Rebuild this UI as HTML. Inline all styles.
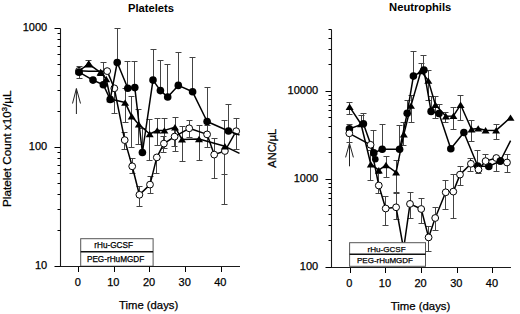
<!DOCTYPE html>
<html><head><meta charset="utf-8"><style>
html,body{margin:0;padding:0;background:#fff;}
body{width:520px;height:314px;overflow:hidden;}
svg{display:block;font-family:"Liberation Sans", sans-serif;}
</style></head><body>
<svg width="520" height="314" viewBox="0 0 520 314" fill="#000">
<path d="M60.5 28.5V266.5H240" stroke="#1a1a1a" stroke-width="1.1" fill="none"/>
<path d="M54.5 28.5H60.5M54.5 147.5H60.5M54.5 266.5H60.5M57.5 230.5H60.5M57.5 209.5H60.5M57.5 194.5H60.5M57.5 183.5H60.5M57.5 173.5H60.5M57.5 165.5H60.5M57.5 158.5H60.5M57.5 152.5H60.5M57.5 111.5H60.5M57.5 90.5H60.5M57.5 75.5H60.5M57.5 64.5H60.5M57.5 54.5H60.5M57.5 46.5H60.5M57.5 39.5H60.5M57.5 33.5H60.5M78.5 266.5V272M114.5 266.5V272M149.5 266.5V272M185.5 266.5V272M221.5 266.5V272" stroke="#000" stroke-width="1" fill="none"/>
<text x="47.2" y="30.8" font-size="11" text-anchor="end" font-weight="normal" stroke="#000" stroke-width="0.25">1000</text>
<text x="47.2" y="149.9" font-size="11" text-anchor="end" font-weight="normal" stroke="#000" stroke-width="0.25">100</text>
<text x="47.2" y="269" font-size="11" text-anchor="end" font-weight="normal" stroke="#000" stroke-width="0.25">10</text>
<text x="77.7" y="286" font-size="11" text-anchor="middle" font-weight="normal" stroke="#000" stroke-width="0.25">0</text>
<text x="113.35" y="286" font-size="11" text-anchor="middle" font-weight="normal" stroke="#000" stroke-width="0.25">10</text>
<text x="149" y="286" font-size="11" text-anchor="middle" font-weight="normal" stroke="#000" stroke-width="0.25">20</text>
<text x="184.65" y="286" font-size="11" text-anchor="middle" font-weight="normal" stroke="#000" stroke-width="0.25">30</text>
<text x="220.3" y="286" font-size="11" text-anchor="middle" font-weight="normal" stroke="#000" stroke-width="0.25">40</text>
<path d="M76.4 88.6V114M72.5 103.5L76.4 88.6L80.5 103.5" stroke="#222" stroke-width="1" fill="none"/>
<path d="M79.5 70.8V66.5M76.5 66.5h6M79.5 70.8V78.5M76.5 78.5h6M114.5 88.3V113.5M111.5 113.5h6M124.5 140.1V132.5M121.5 132.5h6M124.5 140.1V149.5M121.5 149.5h6M132.5 166.3V158.5M129.5 158.5h6M132.5 166.3V173.5M129.5 173.5h6M139.5 194.8V186.5M136.5 186.5h6M139.5 194.8V206.5M136.5 206.5h6M150.5 184.6V176.5M147.5 176.5h6M150.5 184.6V193.5M147.5 193.5h6M156.5 157.4V173.5M153.5 173.5h6M163.5 143.6V136.5M160.5 136.5h6M163.5 143.6V152.5M160.5 152.5h6M174.5 136.6V128.5M171.5 128.5h6M174.5 136.6V146.5M171.5 146.5h6M189.5 128.3V120.5M186.5 120.5h6M189.5 128.3V137.5M186.5 137.5h6M207.5 134.4V125.5M204.5 125.5h6M207.5 134.4V147.5M204.5 147.5h6M214.5 154.6V138.5M211.5 138.5h6M214.5 154.6V178.5M211.5 178.5h6M224.5 151V174.5M221.5 174.5h6M236.5 131.2V118.5M233.5 118.5h6M236.5 131.2V149.5M233.5 149.5h6" stroke="#444" stroke-width="1" fill="none"/>
<path d="M88.5 63.9V60.5M85.5 60.5h6M125.5 102.6V88.5M122.5 88.5h6M125.5 102.6V122.5M122.5 122.5h6M131.5 116.3V96.5M128.5 96.5h6M131.5 116.3V147.5M128.5 147.5h6M138.5 124.4V109.5M135.5 109.5h6M138.5 124.4V144.5M135.5 144.5h6M149.5 134V119.5M146.5 119.5h6M149.5 134V160.5M146.5 160.5h6M157.5 130.4V118.5M154.5 118.5h6M157.5 130.4V145.5M154.5 145.5h6M164.5 130.4V118.5M161.5 118.5h6M164.5 130.4V148.5M161.5 148.5h6M175.5 127.2V117.5M172.5 117.5h6M175.5 127.2V151.5M172.5 151.5h6M182.5 139.4V126.5M179.5 126.5h6M182.5 139.4V161.5M179.5 161.5h6M199.5 139V125.5M196.5 125.5h6M199.5 139V160.5M196.5 160.5h6M224.5 146.3V120.5M221.5 120.5h6M224.5 146.3V204.5M221.5 204.5h6" stroke="#444" stroke-width="1" fill="none"/>
<path d="M103.5 84.8V62.5M100.5 62.5h6M117.5 62.5V28.5M114.5 28.5h6M127.5 88.3V61.5M124.5 61.5h6M134.5 87.6V61.5M131.5 61.5h6M142.5 152.5V128.5M139.5 128.5h6M153.5 80.1V49.5M150.5 49.5h6M160.5 90.6V60.5M157.5 60.5h6M167.5 97V64.5M164.5 64.5h6M178.5 85.4V52.5M175.5 52.5h6M192.5 91.8V57.5M189.5 57.5h6M207.5 121.5V87.5M204.5 87.5h6M228.5 131V104.5M225.5 104.5h6" stroke="#444" stroke-width="1" fill="none"/>
<polyline points="79,70.8 88.8,71.2 100.5,71.3 107.2,71.1 114.3,88.3 124.7,140.1 132.2,166.3 139.4,194.8 150,184.6 156.8,157.4 163.9,143.6 174.6,136.6 189.2,128.3 207.1,134.4 214.2,154.6 224.9,151 236.2,131.2" fill="none" stroke="#000" stroke-width="1.5" stroke-linejoin="round"/>
<circle cx="79" cy="70.8" r="3.4" fill="#fff" stroke="#000" stroke-width="1"/>
<circle cx="107.2" cy="71.1" r="3.4" fill="#fff" stroke="#000" stroke-width="1"/>
<circle cx="114.3" cy="88.3" r="3.4" fill="#fff" stroke="#000" stroke-width="1"/>
<circle cx="124.7" cy="140.1" r="3.4" fill="#fff" stroke="#000" stroke-width="1"/>
<circle cx="132.2" cy="166.3" r="3.4" fill="#fff" stroke="#000" stroke-width="1"/>
<circle cx="139.4" cy="194.8" r="3.4" fill="#fff" stroke="#000" stroke-width="1"/>
<circle cx="150" cy="184.6" r="3.4" fill="#fff" stroke="#000" stroke-width="1"/>
<circle cx="156.8" cy="157.4" r="3.4" fill="#fff" stroke="#000" stroke-width="1"/>
<circle cx="163.9" cy="143.6" r="3.4" fill="#fff" stroke="#000" stroke-width="1"/>
<circle cx="174.6" cy="136.6" r="3.4" fill="#fff" stroke="#000" stroke-width="1"/>
<circle cx="189.2" cy="128.3" r="3.4" fill="#fff" stroke="#000" stroke-width="1"/>
<circle cx="207.1" cy="134.4" r="3.4" fill="#fff" stroke="#000" stroke-width="1"/>
<circle cx="214.2" cy="154.6" r="3.4" fill="#fff" stroke="#000" stroke-width="1"/>
<circle cx="224.9" cy="151" r="3.4" fill="#fff" stroke="#000" stroke-width="1"/>
<circle cx="236.2" cy="131.2" r="3.4" fill="#fff" stroke="#000" stroke-width="1"/>
<polyline points="79,71 88.6,63.9 101,72.8 106.2,79 110.5,99 125.1,102.6 131.7,116.3 138.8,124.4 149.7,134 157.2,130.4 164.4,130.4 175,127.2 182,139.4 199,139 224.9,146.3 239.5,153.4" fill="none" stroke="#000" stroke-width="1.5" stroke-linejoin="round"/>
<path d="M79 67.8L83 74.2L75 74.2Z" fill="#000"/>
<path d="M88.6 60.7L92.6 67.1L84.6 67.1Z" fill="#000"/>
<path d="M101 69.6L105 76L97 76Z" fill="#000"/>
<path d="M106.2 75.8L110.2 82.2L102.2 82.2Z" fill="#000"/>
<path d="M110.5 95.8L114.5 102.2L106.5 102.2Z" fill="#000"/>
<path d="M125.1 99.4L129.1 105.8L121.1 105.8Z" fill="#000"/>
<path d="M131.7 113.1L135.7 119.5L127.7 119.5Z" fill="#000"/>
<path d="M138.8 121.2L142.8 127.6L134.8 127.6Z" fill="#000"/>
<path d="M149.7 130.8L153.7 137.2L145.7 137.2Z" fill="#000"/>
<path d="M157.2 127.2L161.2 133.6L153.2 133.6Z" fill="#000"/>
<path d="M164.4 127.2L168.4 133.6L160.4 133.6Z" fill="#000"/>
<path d="M175 124L179 130.4L171 130.4Z" fill="#000"/>
<path d="M182 136.2L186 142.6L178 142.6Z" fill="#000"/>
<path d="M199 135.8L203 142.2L195 142.2Z" fill="#000"/>
<path d="M224.9 143.1L228.9 149.5L220.9 149.5Z" fill="#000"/>
<path d="M88.8 60.3L93.6 67.5L84 67.5Z" fill="#000"/>
<path d="M100.6 68.8L104.6 75.6L96.6 75.6Z" fill="#000"/>
<polyline points="79,72.2 93,80.1 103.3,84.8 110.2,99.4 117.2,62.5 127.8,88.3 134.8,87.6 142.4,152.5 153,80.1 160.4,90.6 167.7,97 178.3,85.4 192.6,91.8 207.1,121.5 228.5,131 239.5,135" fill="none" stroke="#000" stroke-width="1.5" stroke-linejoin="round"/>
<circle cx="79" cy="72.2" r="3.8" fill="#000"/>
<circle cx="93" cy="80.1" r="3.8" fill="#000"/>
<circle cx="103.3" cy="84.8" r="3.8" fill="#000"/>
<circle cx="110.2" cy="99.4" r="3.8" fill="#000"/>
<circle cx="117.2" cy="62.5" r="3.8" fill="#000"/>
<circle cx="127.8" cy="88.3" r="3.8" fill="#000"/>
<circle cx="134.8" cy="87.6" r="3.8" fill="#000"/>
<circle cx="142.4" cy="152.5" r="3.8" fill="#000"/>
<circle cx="153" cy="80.1" r="3.8" fill="#000"/>
<circle cx="160.4" cy="90.6" r="3.8" fill="#000"/>
<circle cx="167.7" cy="97" r="3.8" fill="#000"/>
<circle cx="178.3" cy="85.4" r="3.8" fill="#000"/>
<circle cx="192.6" cy="91.8" r="3.8" fill="#000"/>
<circle cx="207.1" cy="121.5" r="3.8" fill="#000"/>
<circle cx="228.5" cy="131" r="3.8" fill="#000"/>
<rect x="80.7" y="238.7" width="72.4" height="27.5" fill="#fff" stroke="#555" stroke-width="1"/>
<path d="M80.7 251.8H153.1" stroke="#111" stroke-width="1.4"/>
<path d="M60.5 266.5H240" stroke="#1a1a1a" stroke-width="1.1"/>
<text x="113.6" y="248" font-size="8.2" text-anchor="middle" font-weight="normal" stroke="#000" stroke-width="0.25">rHu-GCSF</text>
<text x="115.6" y="261.6" font-size="8.2" text-anchor="middle" font-weight="normal" stroke="#000" stroke-width="0.25">PEG-rHuMGDF</text>
<text x="151" y="11.5" font-size="11.2" text-anchor="middle" font-weight="bold" >Platelets</text>
<text x="148.6" y="308.5" font-size="11.3" text-anchor="middle" font-weight="normal" stroke="#000" stroke-width="0.25">Time (days)</text>
<text transform="translate(11.2 207) rotate(-90)" font-size="10.6" textLength="116.5" lengthAdjust="spacingAndGlyphs" stroke="#000" stroke-width="0.25">Platelet Count x10<tspan font-size="7" dy="-4">3</tspan><tspan dy="4">/&#181;L</tspan></text>
<path d="M331.5 29.5V267.5H510.8" stroke="#1a1a1a" stroke-width="1.1" fill="none"/>
<path d="M325.5 91.5H331.5M325.5 179.5H331.5M325.5 267.5H331.5M328.5 240.5H331.5M328.5 225.5H331.5M328.5 214.5H331.5M328.5 205.5H331.5M328.5 198.5H331.5M328.5 193.5H331.5M328.5 187.5H331.5M328.5 183.5H331.5M328.5 152.5H331.5M328.5 137.5H331.5M328.5 126.5H331.5M328.5 117.5H331.5M328.5 110.5H331.5M328.5 105.5H331.5M328.5 99.5H331.5M328.5 95.5H331.5M328.5 64.5H331.5M328.5 49.5H331.5M328.5 38.5H331.5M328.5 29.5H331.5M350.5 267.5V273M385.5 267.5V273M421.5 267.5V273M457.5 267.5V273M492.5 267.5V273" stroke="#000" stroke-width="1" fill="none"/>
<text x="318.2" y="93.8" font-size="11" text-anchor="end" font-weight="normal" stroke="#000" stroke-width="0.25">10000</text>
<text x="318.2" y="181.8" font-size="11" text-anchor="end" font-weight="normal" stroke="#000" stroke-width="0.25">1000</text>
<text x="318.2" y="269.8" font-size="11" text-anchor="end" font-weight="normal" stroke="#000" stroke-width="0.25">100</text>
<text x="349.3" y="287" font-size="11" text-anchor="middle" font-weight="normal" stroke="#000" stroke-width="0.25">0</text>
<text x="384.95" y="287" font-size="11" text-anchor="middle" font-weight="normal" stroke="#000" stroke-width="0.25">10</text>
<text x="420.6" y="287" font-size="11" text-anchor="middle" font-weight="normal" stroke="#000" stroke-width="0.25">20</text>
<text x="456.25" y="287" font-size="11" text-anchor="middle" font-weight="normal" stroke="#000" stroke-width="0.25">30</text>
<text x="491.9" y="287" font-size="11" text-anchor="middle" font-weight="normal" stroke="#000" stroke-width="0.25">40</text>
<path d="M349.5 143.4V166.3M345.6 157.4L349.5 143.4L353.4 157.4" stroke="#222" stroke-width="1" fill="none"/>
<path d="M363.5 123.8V113.5M360.5 113.5h6M373.5 152.9V130.5M370.5 130.5h6M382.5 149.3V124.5M379.5 124.5h6M399.5 149.3V125.5M396.5 125.5h6M407.5 113.2V100.5M404.5 100.5h6M413.5 76.1V51.5M410.5 51.5h6M423.5 70V55.5M420.5 55.5h6M431.5 111.4V96.5M428.5 96.5h6M439.5 113.5V104.5M436.5 104.5h6M477.5 166V150.5M474.5 150.5h6" stroke="#444" stroke-width="1" fill="none"/>
<path d="M349.5 133.3V124.5M346.5 124.5h6M349.5 133.3V142.5M346.5 142.5h6M378.5 185.5V173.5M375.5 173.5h6M378.5 185.5V193.5M375.5 193.5h6M385.5 208.5V196.5M382.5 196.5h6M385.5 208.5V225.5M382.5 225.5h6M396.5 207.3V193.5M393.5 193.5h6M396.5 207.3V219.5M393.5 219.5h6M410.5 203.9V192.5M407.5 192.5h6M410.5 203.9V218.5M407.5 218.5h6M421.5 209V198.5M418.5 198.5h6M421.5 209V223.5M418.5 223.5h6M428.5 237.4V226.5M425.5 226.5h6M428.5 237.4V251.5M425.5 251.5h6M435.5 218V207.5M432.5 207.5h6M435.5 218V230.5M432.5 230.5h6M445.5 192.3V180.5M442.5 180.5h6M445.5 192.3V209.5M442.5 209.5h6M453.5 191.6V174.5M450.5 174.5h6M453.5 191.6V218.5M450.5 218.5h6M460.5 174.6V166.5M457.5 166.5h6M460.5 174.6V185.5M457.5 185.5h6M470.5 163.8V158.5M467.5 158.5h6M470.5 163.8V171.5M467.5 171.5h6M478.5 169.6V173.5M475.5 173.5h6M485.5 161.1V154.5M482.5 154.5h6M496.5 158V171.5M493.5 171.5h6M507.5 162.5V154.5M504.5 154.5h6M507.5 162.5V172.5M504.5 172.5h6" stroke="#444" stroke-width="1" fill="none"/>
<path d="M349.5 106.8V102.5M346.5 102.5h6M349.5 106.8V114.5M346.5 114.5h6M361.5 124V115.5M358.5 115.5h6M370.5 164.2V150.5M367.5 150.5h6M370.5 164.2V180.5M367.5 180.5h6M386.5 165V156.5M383.5 156.5h6M386.5 165V177.5M383.5 177.5h6M396.5 172.4V160.5M393.5 160.5h6M396.5 172.4V192.5M393.5 192.5h6M403.5 134.2V122.5M400.5 122.5h6M403.5 134.2V145.5M400.5 145.5h6M411.5 105.6V95.5M408.5 95.5h6M411.5 105.6V122.5M408.5 122.5h6M421.5 71V63.5M418.5 63.5h6M428.5 80.6V70.5M425.5 70.5h6M428.5 80.6V100.5M425.5 100.5h6M435.5 104.8V96.5M432.5 96.5h6M435.5 104.8V118.5M432.5 118.5h6M445.5 116.3V112.5M442.5 112.5h6M445.5 116.3V122.5M442.5 122.5h6M453.5 115.9V107.5M450.5 107.5h6M453.5 115.9V129.5M450.5 129.5h6M460.5 104.8V95.5M457.5 95.5h6M460.5 104.8V120.5M457.5 120.5h6M471.5 129.3V120.5M468.5 120.5h6M471.5 129.3V141.5M468.5 141.5h6M496.5 130.4V124.5M493.5 124.5h6M496.5 130.4V139.5M493.5 139.5h6" stroke="#444" stroke-width="1" fill="none"/>
<polyline points="349.4,128.9 363.4,123.8 373.8,152.9 382.2,149.3 399.6,149.3 407.2,113.2 413.4,76.1 423.9,70 431.1,111.4 439,113.5 450.8,148.8 463.9,132.5 477.7,166 488.8,166.4 500.3,161 510.6,140.7" fill="none" stroke="#000" stroke-width="1.5" stroke-linejoin="round"/>
<circle cx="349.4" cy="128.9" r="3.8" fill="#000"/>
<circle cx="363.4" cy="123.8" r="3.8" fill="#000"/>
<circle cx="373.8" cy="152.9" r="3.8" fill="#000"/>
<circle cx="382.2" cy="149.3" r="3.8" fill="#000"/>
<circle cx="399.6" cy="149.3" r="3.8" fill="#000"/>
<circle cx="407.2" cy="113.2" r="3.8" fill="#000"/>
<circle cx="413.4" cy="76.1" r="3.8" fill="#000"/>
<circle cx="423.9" cy="70" r="3.8" fill="#000"/>
<circle cx="431.1" cy="111.4" r="3.8" fill="#000"/>
<circle cx="439" cy="113.5" r="3.8" fill="#000"/>
<circle cx="450.8" cy="148.8" r="3.8" fill="#000"/>
<circle cx="463.9" cy="132.5" r="3.8" fill="#000"/>
<circle cx="477.7" cy="166" r="3.8" fill="#000"/>
<circle cx="488.8" cy="166.4" r="3.8" fill="#000"/>
<circle cx="500.3" cy="161" r="3.8" fill="#000"/>
<polyline points="349.3,133.3 370.6,144.8 378.8,185.5 385.7,208.5 396.1,207.3 403.6,249 410,203.9 421.2,209 428.6,237.4 435.2,218 445.7,192.3 453.3,191.6 460,174.6 470.9,163.8 478.5,169.6 485.6,161.1 496.3,158 507,162.5" fill="none" stroke="#000" stroke-width="1.5" stroke-linejoin="round"/>
<circle cx="349.3" cy="133.3" r="3.4" fill="#fff" stroke="#000" stroke-width="1"/>
<circle cx="370.6" cy="144.8" r="3.4" fill="#fff" stroke="#000" stroke-width="1"/>
<circle cx="378.8" cy="185.5" r="3.4" fill="#fff" stroke="#000" stroke-width="1"/>
<circle cx="385.7" cy="208.5" r="3.4" fill="#fff" stroke="#000" stroke-width="1"/>
<circle cx="396.1" cy="207.3" r="3.4" fill="#fff" stroke="#000" stroke-width="1"/>
<circle cx="403.6" cy="249" r="3.4" fill="#fff" stroke="#000" stroke-width="1"/>
<circle cx="410" cy="203.9" r="3.4" fill="#fff" stroke="#000" stroke-width="1"/>
<circle cx="421.2" cy="209" r="3.4" fill="#fff" stroke="#000" stroke-width="1"/>
<circle cx="428.6" cy="237.4" r="3.4" fill="#fff" stroke="#000" stroke-width="1"/>
<circle cx="435.2" cy="218" r="3.4" fill="#fff" stroke="#000" stroke-width="1"/>
<circle cx="445.7" cy="192.3" r="3.4" fill="#fff" stroke="#000" stroke-width="1"/>
<circle cx="453.3" cy="191.6" r="3.4" fill="#fff" stroke="#000" stroke-width="1"/>
<circle cx="460" cy="174.6" r="3.4" fill="#fff" stroke="#000" stroke-width="1"/>
<circle cx="470.9" cy="163.8" r="3.4" fill="#fff" stroke="#000" stroke-width="1"/>
<circle cx="478.5" cy="169.6" r="3.4" fill="#fff" stroke="#000" stroke-width="1"/>
<circle cx="485.6" cy="161.1" r="3.4" fill="#fff" stroke="#000" stroke-width="1"/>
<circle cx="496.3" cy="158" r="3.4" fill="#fff" stroke="#000" stroke-width="1"/>
<circle cx="507" cy="162.5" r="3.4" fill="#fff" stroke="#000" stroke-width="1"/>
<polyline points="349.6,106.8 361,124 370.8,164.2 378.8,170.2 386,165 396.1,172.4 403.8,134.2 411,105.6 421,71 428.3,80.6 435.4,104.8 445.9,116.3 453.4,115.9 460.6,104.8 471.5,129.3 478.2,128.4 485.6,130.2 496.1,130.4 510.5,117.6" fill="none" stroke="#000" stroke-width="1.5" stroke-linejoin="round"/>
<path d="M349.6 103.6L353.6 110L345.6 110Z" fill="#000"/>
<path d="M361 120.8L365 127.2L357 127.2Z" fill="#000"/>
<path d="M370.8 161L374.8 167.4L366.8 167.4Z" fill="#000"/>
<path d="M378.8 167L382.8 173.4L374.8 173.4Z" fill="#000"/>
<path d="M386 161.8L390 168.2L382 168.2Z" fill="#000"/>
<path d="M396.1 169.2L400.1 175.6L392.1 175.6Z" fill="#000"/>
<path d="M403.8 131L407.8 137.4L399.8 137.4Z" fill="#000"/>
<path d="M411 102.4L415 108.8L407 108.8Z" fill="#000"/>
<path d="M421 67.8L425 74.2L417 74.2Z" fill="#000"/>
<path d="M428.3 77.4L432.3 83.8L424.3 83.8Z" fill="#000"/>
<path d="M435.4 101.6L439.4 108L431.4 108Z" fill="#000"/>
<path d="M445.9 113.1L449.9 119.5L441.9 119.5Z" fill="#000"/>
<path d="M453.4 112.7L457.4 119.1L449.4 119.1Z" fill="#000"/>
<path d="M460.6 101.6L464.6 108L456.6 108Z" fill="#000"/>
<path d="M471.5 126.1L475.5 132.5L467.5 132.5Z" fill="#000"/>
<path d="M478.2 125.2L482.2 131.6L474.2 131.6Z" fill="#000"/>
<path d="M485.6 127L489.6 133.4L481.6 133.4Z" fill="#000"/>
<path d="M496.1 127.2L500.1 133.6L492.1 133.6Z" fill="#000"/>
<path d="M510.5 114.4L514.5 120.8L506.5 120.8Z" fill="#000"/>
<circle cx="500.3" cy="161" r="3.8" fill="#000"/>
<circle cx="375.3" cy="159.3" r="3.3" fill="#000"/>
<rect x="349.6" y="242.7" width="75.9" height="23.6" fill="#fff" stroke="#555" stroke-width="1"/>
<path d="M349.6 254.3H425.5" stroke="#111" stroke-width="1.4"/>
<path d="M331.5 267.5H510.8" stroke="#1a1a1a" stroke-width="1.1"/>
<text x="386.6" y="251.7" font-size="8.1" text-anchor="middle" font-weight="normal" stroke="#000" stroke-width="0.25">rHu-GCSF</text>
<text x="385" y="262.6" font-size="8.0" text-anchor="middle" font-weight="normal" stroke="#000" stroke-width="0.25">PEG-rHuMGDF</text>
<text x="420.2" y="11.2" font-size="11.2" text-anchor="middle" font-weight="bold" >Neutrophils</text>
<text x="420.5" y="310" font-size="11.4" text-anchor="middle" font-weight="normal" stroke="#000" stroke-width="0.25">Time (days)</text>
<text transform="translate(276.2 167.7) rotate(-90)" font-size="10.6" textLength="38.9" lengthAdjust="spacingAndGlyphs" stroke="#000" stroke-width="0.25">ANC/&#181;L</text>
</svg>
</body></html>
